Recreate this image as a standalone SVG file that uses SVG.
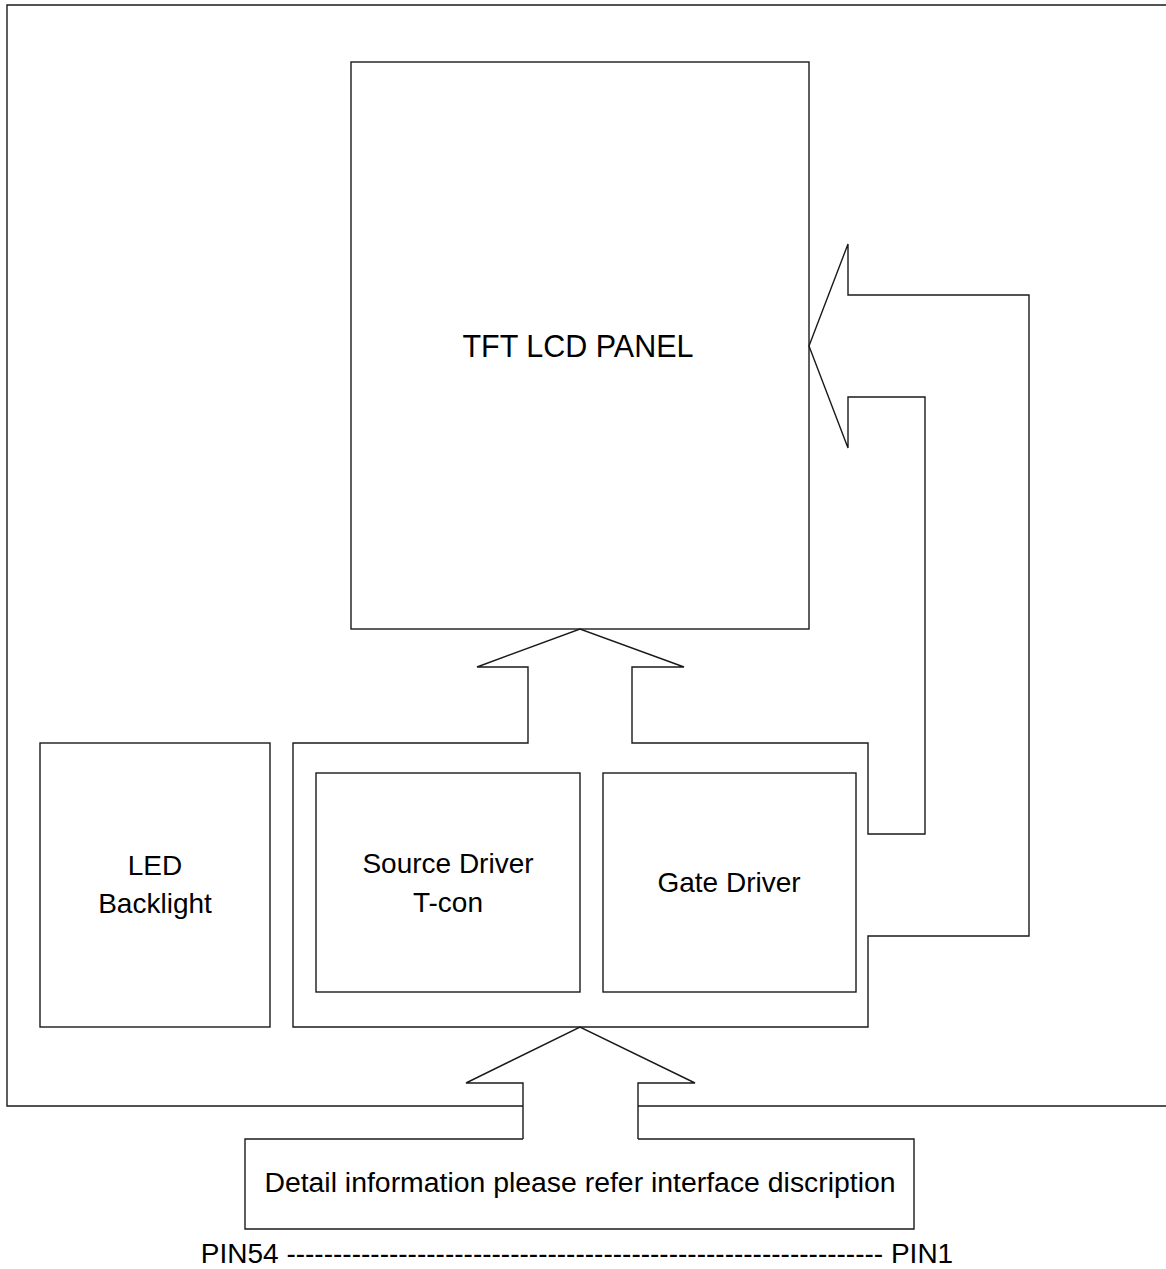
<svg xmlns="http://www.w3.org/2000/svg" width="1166" height="1269" viewBox="0 0 1166 1269">
<style>
.ln{fill:none;stroke:#1a1a1a;stroke-width:1.4;stroke-linejoin:miter}
.t{font-family:"Liberation Sans",Arial,sans-serif;font-size:28px;fill:#000;text-anchor:middle}
</style>
<rect width="1166" height="1269" fill="#fff"/>
<g id="frame">
<path class="ln" d="M523,1106 L7,1106 L7,5 L1166,5"/>
<path class="ln" d="M638,1106 L1166,1106"/>
</g>
<g id="panel">
<rect class="ln" x="351" y="62" width="458" height="567"/>
<text class="t" x="578" y="357" style="font-size:30.5px">TFT LCD PANEL</text>
</g>
<g id="backlight">
<rect class="ln" x="40" y="743" width="230" height="284"/>
<text class="t" x="155" y="875">LED</text>
<text class="t" x="155" y="913">Backlight</text>
</g>
<g id="source-driver">
<rect class="ln" x="316" y="773" width="264" height="219"/>
<text class="t" x="448" y="873">Source Driver</text>
<text class="t" x="448" y="912">T-con</text>
</g>
<g id="gate-driver">
<rect class="ln" x="603" y="773" width="253" height="219"/>
<text class="t" x="729" y="892">Gate Driver</text>
</g>
<g id="interface">
<path class="ln" d="M523,1139 L245,1139 L245,1229 L914,1229 L914,1139 L638,1139"/>
<text class="t" x="580" y="1192" style="font-size:28.4px">Detail information please refer interface discription</text>
</g>
<g id="connectors">
<path class="ln" d="M293,743 L528,743 L528,667 L477,667 L580,629 L684,667 L632,667 L632,743 L868,743 L868,834 L925,834 L925,397 L848,397 L848,448 L809,346 L848,244 L848,295 L1029,295 L1029,936 L868,936 L868,1027 L293,1027 Z"/>
<path class="ln" d="M523,1139 L523,1083 L466,1083 L580,1027 L695,1083 L638,1083 L638,1139"/>
</g>
<text class="t" x="577" y="1263">PIN54 ---------------------------------------------------------------- PIN1</text>
</svg>
